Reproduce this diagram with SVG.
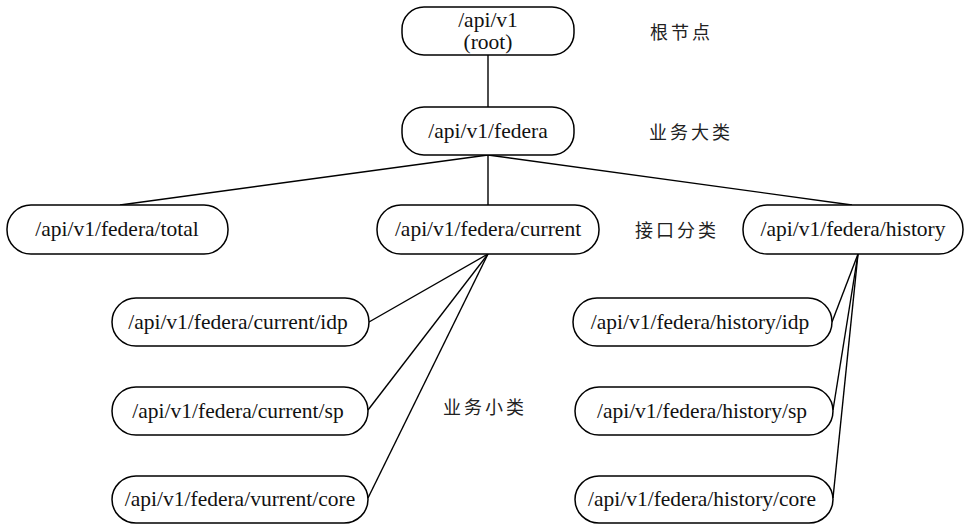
<svg xmlns="http://www.w3.org/2000/svg" width="964" height="524" viewBox="0 0 964 524">
<style>
.node rect{fill:#fff;stroke:#000;stroke-width:1.5}
.node text{font-family:"Liberation Serif","Times New Roman",serif;font-size:21.5px;fill:#111;text-anchor:middle;dominant-baseline:central}
.lbl{font-family:"Noto Sans CJK SC",sans-serif;font-size:18px;fill:#222;letter-spacing:3px}
#connectors line{stroke:#000;stroke-width:1.4}
</style>
<rect width="964" height="524" fill="#fff"/>
<g id="connectors">
<line x1="488" y1="55" x2="488" y2="107"/>
<line x1="488" y1="155" x2="120" y2="205"/>
<line x1="488" y1="155" x2="488" y2="205"/>
<line x1="488" y1="155" x2="852" y2="205"/>
<line x1="488" y1="254" x2="369" y2="322"/>
<line x1="488" y1="254" x2="368" y2="410"/>
<line x1="488" y1="254" x2="368" y2="498"/>
<line x1="858" y1="254" x2="832" y2="322"/>
<line x1="858" y1="254" x2="833" y2="410"/>
<line x1="858" y1="254" x2="833" y2="498"/>
</g>
<g id="root" class="node"><rect x="402" y="7" width="172" height="48" rx="22"/><text x="488" y="20">/api/v1</text><text x="488" y="42">(root)</text></g>
<g id="federa" class="node"><rect x="402" y="107" width="172" height="48" rx="22"/><text x="488" y="131">/api/v1/federa</text></g>
<g id="total" class="node"><rect x="7" y="205" width="221" height="49" rx="24"/><text x="117" y="229">/api/v1/federa/total</text></g>
<g id="current" class="node"><rect x="377" y="205" width="222" height="49" rx="24"/><text x="488" y="229">/api/v1/federa/current</text></g>
<g id="history" class="node"><rect x="743" y="205" width="220" height="49" rx="24"/><text x="853" y="229">/api/v1/federa/history</text></g>
<g id="current-idp" class="node"><rect x="112" y="298" width="257" height="48" rx="24"/><text x="238" y="322">/api/v1/federa/current/idp</text></g>
<g id="current-sp" class="node"><rect x="112" y="387" width="256" height="48" rx="24"/><text x="238" y="411">/api/v1/federa/current/sp</text></g>
<g id="current-core" class="node"><rect x="112" y="476" width="256" height="47" rx="24"/><text x="240" y="499">/api/v1/federa/vurrent/core</text></g>
<g id="history-idp" class="node"><rect x="573" y="298" width="259" height="48" rx="24"/><text x="700" y="322">/api/v1/federa/history/idp</text></g>
<g id="history-sp" class="node"><rect x="575" y="387" width="258" height="48" rx="24"/><text x="702" y="411">/api/v1/federa/history/sp</text></g>
<g id="history-core" class="node"><rect x="575" y="476" width="258" height="47" rx="24"/><text x="702" y="499">/api/v1/federa/history/core</text></g>
<text class="lbl" x="650" y="39">根节点</text>
<text class="lbl" x="649" y="139">业务大类</text>
<text class="lbl" x="635" y="237">接口分类</text>
<text class="lbl" x="443" y="414">业务小类</text>
</svg>
